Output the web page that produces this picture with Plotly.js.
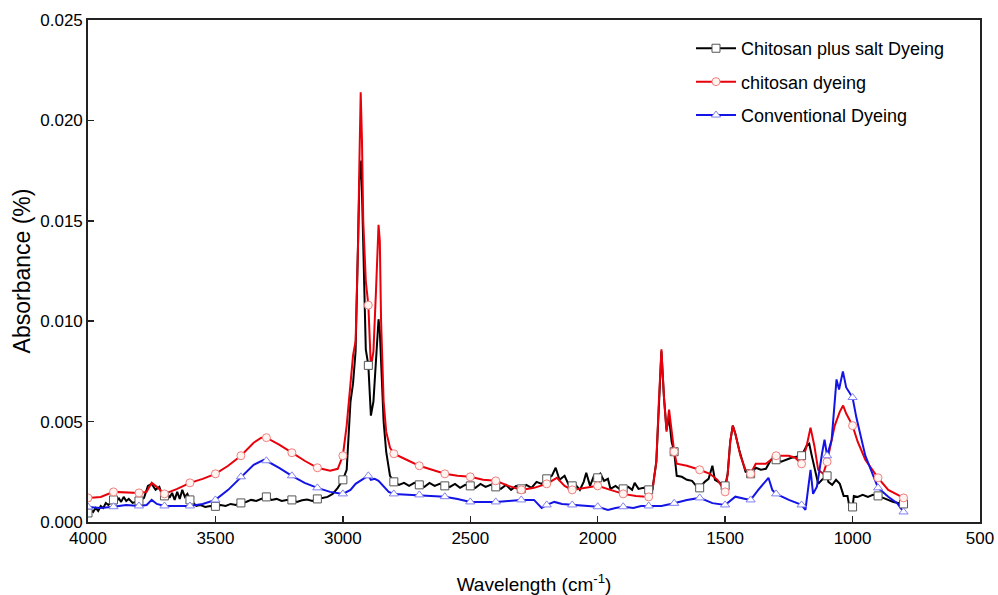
<!DOCTYPE html>
<html>
<head>
<meta charset="utf-8">
<script src="https://cdn.plot.ly/plotly-3.0.1.min.js"></script>
<style>html,body{margin:0;padding:0;background:#fff;}#chart{width:998px;height:595px;}</style>
</head>
<body>
<div id="chart"></div>
<script>
// Chitosan plus salt Dyeing (black)
const saltX = [4000,3990,3980,3970,3960,3950,3940,3930,3920,3900,3890,3880,3870,3860,3850,3840,3825,3800,3780,3765,3750,3735,3720,3710,3700,3690,3680,3670,3660,3650,3640,3630,3620,3610,3600,3590,3575,3560,3540,3520,3500,3480,3460,3440,3420,3400,3380,3360,3340,3320,3300,3280,3260,3240,3220,3200,3180,3160,3140,3120,3100,3080,3060,3040,3020,3000,2985,2970,2960,2950,2945,2935,2928,2920,2910,2900,2890,2880,2870,2860,2855,2850,2840,2830,2815,2800,2780,2760,2740,2720,2700,2680,2660,2640,2620,2600,2580,2560,2540,2520,2500,2480,2460,2440,2420,2400,2380,2360,2340,2320,2300,2280,2260,2240,2220,2200,2180,2165,2150,2130,2110,2100,2090,2070,2055,2045,2030,2015,2000,1990,1975,1960,1950,1930,1910,1900,1880,1865,1855,1840,1820,1800,1785,1770,1760,1750,1740,1730,1720,1710,1700,1690,1670,1650,1630,1610,1600,1580,1565,1550,1540,1520,1500,1490,1480,1470,1460,1445,1420,1400,1380,1360,1340,1320,1300,1280,1260,1240,1220,1200,1180,1170,1160,1145,1135,1120,1100,1095,1080,1065,1050,1035,1020,1010,1000,995,980,960,940,920,900,880,860,840,820,800];
const saltY = [0.00045,0.00060,0.00050,0.00070,0.00055,0.00080,0.00070,0.00095,0.00085,0.00110,0.00095,0.00120,0.00100,0.00125,0.00105,0.00115,0.00095,0.00105,0.00120,0.00180,0.00190,0.00160,0.00175,0.00135,0.00130,0.00150,0.00120,0.00145,0.00110,0.00150,0.00115,0.00160,0.00125,0.00140,0.00110,0.00100,0.00080,0.00085,0.00075,0.00080,0.00078,0.00085,0.00080,0.00090,0.00085,0.00095,0.00100,0.00110,0.00105,0.00115,0.00125,0.00110,0.00115,0.00105,0.00110,0.00110,0.00100,0.00108,0.00112,0.00105,0.00115,0.00120,0.00125,0.00140,0.00170,0.00210,0.00260,0.00600,0.00690,0.00850,0.01150,0.01700,0.01800,0.01350,0.00860,0.00780,0.00530,0.00600,0.00800,0.01010,0.00950,0.00800,0.00500,0.00350,0.00230,0.00200,0.00185,0.00195,0.00180,0.00195,0.00185,0.00175,0.00195,0.00180,0.00190,0.00180,0.00175,0.00190,0.00170,0.00185,0.00180,0.00170,0.00190,0.00175,0.00185,0.00175,0.00165,0.00185,0.00160,0.00180,0.00165,0.00185,0.00170,0.00200,0.00190,0.00215,0.00230,0.00270,0.00210,0.00230,0.00175,0.00180,0.00190,0.00160,0.00200,0.00245,0.00180,0.00230,0.00220,0.00240,0.00205,0.00215,0.00165,0.00180,0.00160,0.00165,0.00175,0.00160,0.00195,0.00165,0.00170,0.00160,0.00165,0.00300,0.00600,0.00850,0.00620,0.00460,0.00520,0.00400,0.00350,0.00230,0.00225,0.00210,0.00205,0.00175,0.00170,0.00200,0.00215,0.00280,0.00210,0.00195,0.00180,0.00240,0.00400,0.00480,0.00440,0.00360,0.00250,0.00240,0.00270,0.00260,0.00265,0.00310,0.00310,0.00300,0.00310,0.00320,0.00325,0.00330,0.00380,0.00390,0.00330,0.00250,0.00190,0.00210,0.00230,0.00200,0.00185,0.00210,0.00190,0.00130,0.00130,0.00060,0.00075,0.00130,0.00125,0.00135,0.00125,0.00135,0.00130,0.00120,0.00110,0.00100,0.00095,0.00090];

// chitosan dyeing (red)
const chitX = [4000,3950,3900,3850,3800,3770,3750,3730,3700,3650,3600,3550,3500,3450,3400,3350,3320,3300,3250,3200,3150,3100,3050,3020,3000,2985,2970,2960,2950,2940,2935,2930,2925,2920,2910,2900,2890,2880,2870,2860,2855,2850,2840,2830,2815,2800,2750,2700,2650,2600,2550,2500,2450,2400,2350,2300,2250,2200,2160,2130,2100,2050,2000,1950,1900,1850,1800,1785,1770,1760,1750,1740,1730,1720,1710,1700,1690,1650,1600,1560,1530,1510,1500,1490,1480,1470,1460,1440,1420,1400,1380,1340,1300,1250,1225,1200,1180,1165,1150,1135,1115,1100,1070,1050,1037,1025,1000,980,950,900,860,830,800];
const chitY = [0.00120,0.00125,0.00150,0.00148,0.00145,0.00150,0.00195,0.00175,0.00140,0.00165,0.00195,0.00215,0.00240,0.00280,0.00330,0.00395,0.00420,0.00420,0.00385,0.00345,0.00305,0.00270,0.00255,0.00265,0.00330,0.00480,0.00700,0.00830,0.00900,0.01400,0.01800,0.02140,0.01900,0.01500,0.01200,0.01080,0.00770,0.00850,0.01150,0.01480,0.01400,0.01000,0.00600,0.00450,0.00370,0.00340,0.00310,0.00280,0.00260,0.00240,0.00230,0.00225,0.00210,0.00205,0.00180,0.00160,0.00170,0.00190,0.00220,0.00180,0.00160,0.00170,0.00180,0.00160,0.00140,0.00130,0.00125,0.00160,0.00300,0.00600,0.00860,0.00620,0.00450,0.00560,0.00440,0.00350,0.00290,0.00280,0.00260,0.00240,0.00210,0.00170,0.00150,0.00240,0.00400,0.00480,0.00440,0.00330,0.00260,0.00240,0.00290,0.00290,0.00330,0.00330,0.00320,0.00290,0.00380,0.00470,0.00380,0.00260,0.00240,0.00300,0.00480,0.00550,0.00580,0.00540,0.00480,0.00400,0.00310,0.00220,0.00160,0.00140,0.00120];

// Conventional Dyeing (blue)
const convX = [4000,3950,3900,3850,3800,3770,3750,3730,3700,3650,3600,3550,3500,3450,3400,3350,3310,3300,3250,3200,3150,3100,3050,3000,2970,2950,2920,2900,2890,2875,2860,2840,2820,2800,2750,2700,2650,2600,2550,2500,2450,2400,2350,2300,2250,2220,2200,2170,2140,2100,2050,2000,1960,1930,1900,1860,1830,1800,1750,1700,1650,1600,1550,1500,1460,1420,1400,1370,1330,1315,1300,1250,1200,1185,1170,1165,1155,1140,1120,1110,1100,1082,1063,1053,1038,1025,1000,985,950,900,860,825,800];
const convY = [0.00075,0.00070,0.00076,0.00085,0.00080,0.00085,0.00110,0.00090,0.00080,0.00080,0.00080,0.00090,0.00110,0.00160,0.00225,0.00285,0.00310,0.00305,0.00270,0.00230,0.00195,0.00170,0.00150,0.00140,0.00160,0.00190,0.00215,0.00230,0.00210,0.00215,0.00205,0.00180,0.00150,0.00140,0.00137,0.00135,0.00130,0.00126,0.00115,0.00100,0.00100,0.00100,0.00105,0.00110,0.00110,0.00070,0.00085,0.00100,0.00090,0.00085,0.00080,0.00076,0.00060,0.00070,0.00076,0.00070,0.00080,0.00080,0.00080,0.00093,0.00110,0.00120,0.00094,0.00085,0.00126,0.00115,0.00110,0.00160,0.00220,0.00160,0.00140,0.00110,0.00085,0.00060,0.00200,0.00260,0.00140,0.00176,0.00340,0.00410,0.00330,0.00410,0.00710,0.00660,0.00750,0.00670,0.00620,0.00520,0.00330,0.00170,0.00126,0.00094,0.00050];

const seriesNames = ['Chitosan plus salt Dyeing', 'chitosan dyeing', 'Conventional Dyeing'];
const xTickVals = [4000, 3500, 3000, 2500, 2000, 1500, 1000, 500];
const xTickText = ['4000', '3500', '3000', '2500', '2000', '1500', '1000', '500'];

const styles = [
  {line: '#000000', mline: '#555555', mfill: '#ffffff', sym: 'square'},
  {line: '#e8000b', mline: '#f08080', mfill: '#fff4f0', sym: 'circle'},
  {line: '#1414e6', mline: '#8080f0', mfill: '#ffffff', sym: 'triangle-up'}
];
const xs = [saltX, chitX, convX];
const ys = [saltY, chitY, convY];

const traces = [];
for (let i = 0; i < 3; i++) {
  traces.push({
    x: xs[i], y: ys[i], type: 'scatter', mode: 'lines',
    line: {color: styles[i].line, width: 2},
    showlegend: false, hoverinfo: 'skip', cliponaxis: true
  });
}
for (let i = 0; i < 3; i++) {
  const mx = [], my = [];
  xs[i].forEach((v, k) => {
    if (v % 100 === 0) { mx.push(v, null); my.push(ys[i][k], null); }
  });
  traces.push({
    x: mx, y: my, type: 'scatter', mode: 'lines+markers', connectgaps: false,
    name: seriesNames[i], legendgroup: 'g' + i,
    line: {color: styles[i].line, width: 2},
    marker: {symbol: styles[i].sym, size: 8, color: styles[i].mfill, line: {color: styles[i].mline, width: 1}},
    cliponaxis: true
  });
}

const fam = 'Liberation Sans, Arial, sans-serif';
const axisFont = {family: fam, size: 17, color: '#000'};
const layout = {
  width: 998, height: 595,
  margin: {l: 88, r: 18, t: 20, b: 73},
  paper_bgcolor: '#ffffff', plot_bgcolor: '#ffffff',
  showlegend: true,
  legend: {
    x: 0.676, y: 0.98, xanchor: 'left', yanchor: 'top',
    font: {family: fam, size: 18, color: '#000'},
    bgcolor: 'rgba(0,0,0,0)', traceorder: 'grouped', tracegroupgap: 7,
    itemwidth: 40
  },
  xaxis: {
    range: [4000, 500], tickmode: 'array', tickvals: xTickVals, ticktext: xTickText,
    ticks: 'inside', ticklen: 6, tickwidth: 1.5, tickcolor: '#222',
    showline: true, linecolor: '#222', linewidth: 1.8, mirror: true,
    showgrid: false, zeroline: false,
    tickfont: axisFont,
    title: {text: 'Wavelength (cm<sup>-1</sup>)', font: {family: fam, size: 19, color: '#000'}, standoff: 30}
  },
  yaxis: {
    range: [0, 0.025], dtick: 0.005, tick0: 0, tickformat: '.3f',
    ticks: 'inside', ticklen: 6, tickwidth: 1.5, tickcolor: '#222',
    showline: true, linecolor: '#222', linewidth: 1.8, mirror: true,
    showgrid: false, zeroline: false,
    tickfont: axisFont,
    title: {text: 'Absorbance (%)', font: {family: fam, size: 23, color: '#000'}, standoff: 3}
  }
};

Plotly.newPlot('chart', traces, layout, {displayModeBar: false, staticPlot: true});
</script>
</body>
</html>
